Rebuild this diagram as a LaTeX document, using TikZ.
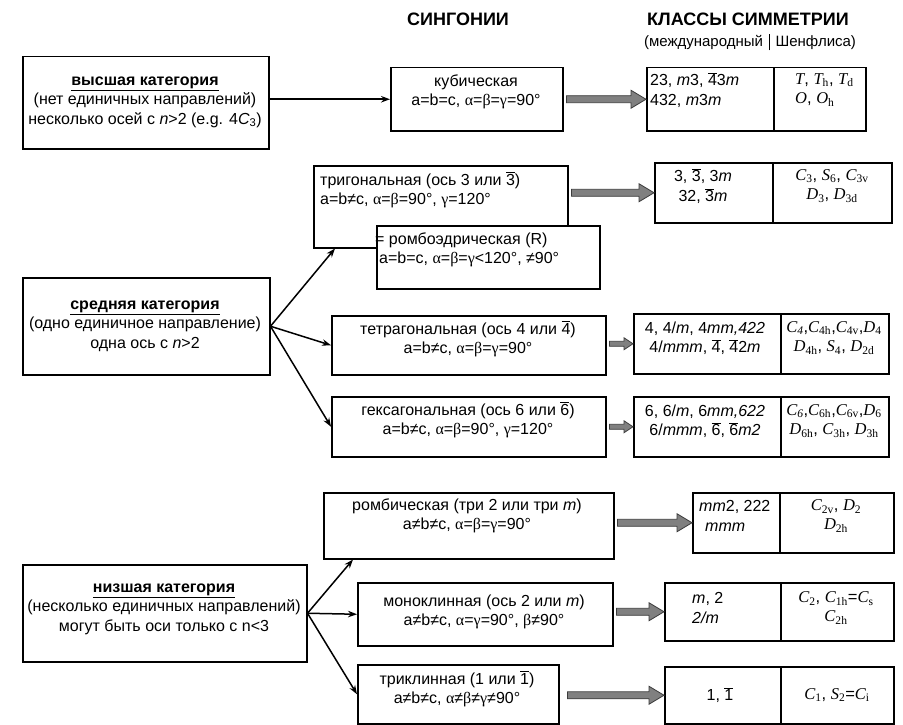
\documentclass[tikz,border=0pt]{standalone}
\usepackage{fontspec}
\setmainfont{Liberation Sans}
\newfontfamily\tms{Liberation Serif}
\usetikzlibrary{calc,arrows.meta}
\definecolor{gfill}{RGB}{128,128,128}
\definecolor{gline}{RGB}{60,60,60}
\newcommand\gA{{\tms α}}
\newcommand\gB{{\tms β}}
\newcommand\gG{{\tms γ}}
\newcommand\ovl[1]{\ensuremath{\overline{\mbox{#1}}}}
\newcommand\im[1]{\textit{#1}}
\newcommand\sch[2]{{\tms\itshape #1}\textsubscript{\tms #2}}
\newcommand\boxat[5]{\node[bx, minimum width=#4pt, minimum height=#5pt, anchor=north west] (#1) at (#2,#3) {};}
\newcommand\blockarrow[6]{%
  \draw[garr] let \p1=(#1.east), \p2=(#2.west) in
   (\x1+#6pt,\y2+#3pt) -- (\x2-#5pt,\y2+#3pt) -- (\x2-#5pt,\y2+#4pt) -- (\x2,\y2)
   -- (\x2-#5pt,\y2-#4pt) -- (\x2-#5pt,\y2-#3pt) -- (\x1+#6pt,\y2-#3pt) -- cycle;}
\tikzset{
  bx/.style={draw, line width=1.5pt, inner sep=0pt, fill=white},
  txt/.style={inner sep=0pt, align=center, font=\fontsize{16}{19.5}\selectfont},
  ltxt/.style={inner sep=0pt, align=left, anchor=west, font=\fontsize{16}{19.5}\selectfont},
  stxt/.style={inner sep=0pt, align=center, font=\fontsize{16.5}{19.5}\selectfont},
  conn/.style={line width=1.5pt, -{Stealth[length=9pt,width=6.5pt]}},
  garr/.style={fill=gfill, draw=gline, line width=0.8pt},
}
\begin{document}
\begin{tikzpicture}[x=1pt,y=-1pt]
\useasboundingbox[fill=white] (0,0) rectangle (903,725);
% headers
\node[font=\bfseries\fontsize{18}{21}\selectfont, inner sep=0pt] (hsyn) at (458,19) {СИНГОНИИ};
\node[font=\bfseries\fontsize{18}{21}\selectfont, inner sep=0pt] (hcls) at (748,19) {КЛАССЫ СИММЕТРИИ};
\node[font=\fontsize{15}{18}\selectfont, inner sep=0pt] (hsub) at (750,42) {(международный\hspace{6pt}\rule[-4pt]{0.6pt}{17pt}\hspace{6pt}Шенфлиса)};
% ---- top
\boxat{vys}{22}{56}{246}{92}
\node[txt] (vyst) at (145,102) {\textbf{\underline{высшая категория}}\\(нет единичных направлений)\\несколько осей с \im{n}>2 (e.g. 4\im{C}\textsubscript{3})};
\boxat{cub}{390}{67}{172}{63}
\node[txt] (cubt) at (476,92) {кубическая\\a=b=c, \gA=\gB=\gG=90°};
\boxat{cubI}{646}{67}{127}{63}
\boxat{cubS}{773}{67}{92}{63}
\node[ltxt] (cubIt) at (650,90) {23, \im{m}3, \ovl{4}3\im{m}\\432, \im{m}3\im{m}};
\node[ltxt, font=\fontsize{16.5}{19.5}\selectfont] (cubSt) at (795,90) {{\tms\itshape T}, \sch{T}{h}, \sch{T}{d}\\{\tms\itshape O}, \sch{O}{h}};
\draw[conn] (cub.west -| vys.east) -- (cub.west);
\blockarrow{cub}{cubI}{3.5}{9}{15}{3}
% ---- trigonal
\boxat{trig}{313}{165}{254}{82}
\node[ltxt] (trigt) at (320,190) {тригональная (ось 3 или \ovl{3})\\a=b≠c, \gA=\gB=90°, \gG=120°};
\boxat{rhom}{376}{225}{223}{63}
\node[ltxt] (rhomt) at (375,250) {= ромбоэдрическая (R)\\\hspace*{4pt}a=b=c, \gA=\gB=\gG<120°, ≠90°};
\boxat{trI}{654}{162}{118}{60}
\boxat{trS}{772}{162}{119}{60}
\node[txt] (trIt) at (703,186) {3, \ovl{3}, 3\im{m}\\32, \ovl{3}\im{m}};
\node[stxt] (trSt) at (832,186) {\sch{C}{3}, \sch{S}{6}, \sch{C}{3v}\\\sch{D}{3}, \sch{D}{3d}};
\blockarrow{trig}{trI}{3.5}{9}{15}{3}
% ---- middle category
\boxat{sred}{22}{277}{247}{97}
\node[txt] (sredt) at (145,326) {\textbf{\underline{средняя категория}}\\(одно единичное направление)\\одна ось с \im{n}>2};
\boxat{tet}{331}{315}{274}{59}
\node[txt] (tett) at (468,339) {тетрагональная (ось 4 или \ovl{4})\\a=b≠c, \gA=\gB=\gG=90°};
\boxat{tetI}{633}{313}{147}{60}
\boxat{tetS}{780}{313}{108}{60}
\node[txt] (tetIt) at (705,338) {4, 4/\im{m}, 4\im{mm,422}\\4/\im{mmm}, \ovl{4}, \ovl{4}2\im{m}};
\node[stxt] (tetSt) at (834,338) {{\tms\itshape C}\textsubscript{\tms\itshape 4},\sch{C}{4h},\sch{C}{4v},\sch{D}{4}\\\sch{D}{4h}, \sch{S}{4}, \sch{D}{2d}};
\blockarrow{tet}{tetI}{2.5}{6}{9}{3}
\boxat{hex}{331}{396}{274}{60}
\node[txt] (hext) at (468,420) {гексагональная (ось 6 или \ovl{6})\\a=b≠c, \gA=\gB=90°, \gG=120°};
\boxat{hexI}{633}{396}{147}{60}
\boxat{hexS}{780}{396}{108}{60}
\node[txt] (hexIt) at (705,421) {6, 6/\im{m}, 6\im{mm,622}\\6/\im{mmm}, \ovl{6}, \ovl{6}\im{m2}};
\node[stxt] (hexSt) at (834,421) {{\tms\itshape C}\textsubscript{\tms\itshape 6},\sch{C}{6h},\sch{C}{6v},\sch{D}{6}\\\sch{D}{6h}, \sch{C}{3h}, \sch{D}{3h}};
\blockarrow{hex}{hexI}{2.5}{6}{9}{3}
\coordinate (trigIn) at ($(trig.south west)+(22,0)$);
\draw[conn] (sred.east) -- (trigIn);
\draw[conn] (sred.east) -- (tet.west);
\draw[conn] (sred.east) -- (hex.west);
% ---- lower category
\boxat{niz}{22}{564}{284}{97}
\node[txt] (nizt) at (164,609) {\textbf{\underline{низшая категория}}\\(несколько единичных направлений)\\могут быть оси только с n<3};
\boxat{rom}{323}{492}{290}{66}
\node[txt] (romt) at (467,516) {ромбическая (три 2 или три \im{m})\\a≠b≠c, \gA=\gB=\gG=90°};
\boxat{romI}{692}{492}{87}{60}
\boxat{romS}{779}{492}{114}{60}
\node[ltxt] (romIt) at (699,516) {\im{mm}2, 222\\\hspace*{6pt}\im{mmm}};
\node[stxt] (romSt) at (836,516) {\sch{C}{2v}, \sch{D}{2}\\\sch{D}{2h}};
\blockarrow{rom}{romI}{3.5}{9}{15}{3}
\boxat{mon}{357}{582}{255}{63}
\node[txt] (mont) at (484,612) {моноклинная (ось 2 или \im{m})\\a≠b≠c, \gA=\gG=90°, \gB≠90°};
\boxat{monI}{664}{582}{116}{58}
\boxat{monS}{780}{582}{113}{58}
\node[ltxt] (monIt) at (692,608) {\im{m}, 2\\\im{2/m}};
\node[stxt] (monSt) at (836,608) {\sch{C}{2}, \sch{C}{1h}=\sch{C}{s}\\\sch{C}{2h}};
\blockarrow{mon}{monI}{3.5}{9}{15}{3}
\boxat{trk}{357}{664}{201}{59}
\node[txt] (trkt) at (457,689) {триклинная (1 или \ovl{1})\\a≠b≠c, \gA≠\gB≠\gG ≠90°};
\boxat{trkI}{664}{666}{116}{57}
\boxat{trkS}{780}{666}{113}{57}
\node[txt] (trkIt) at (720,695) {1, \ovl{1}};
\node[stxt] (trkSt) at (837,695) {\sch{C}{1}, \sch{S}{2}=\sch{C}{i}};
\blockarrow{trk}{trkI}{3.5}{9}{15}{8}
\coordinate (romIn) at ($(rom.south west)+(30,0)$);
\draw[conn] (niz.east) -- (romIn);
\draw[conn] (niz.east) -- (mon.west);
\draw[conn] (niz.east) -- (trk.west);
\end{tikzpicture}
\end{document}
